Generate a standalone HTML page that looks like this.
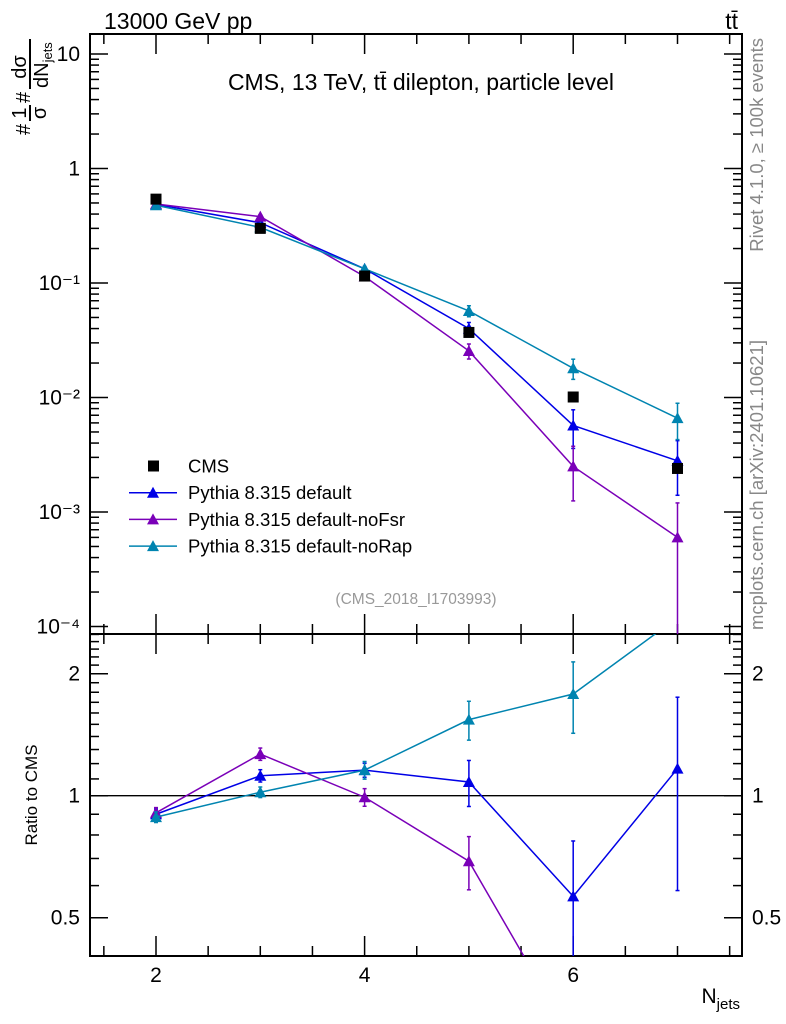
<!DOCTYPE html>
<html><head><meta charset="utf-8"><style>
html,body{margin:0;padding:0;background:#fff;width:786px;height:1024px;overflow:hidden;position:relative;}
svg{display:block;font-family:"Liberation Sans",sans-serif;}
</style></head><body>
<svg id="c" width="786" height="1024" viewBox="0 0 786 1024" style="position:absolute;left:0;top:0"></svg>
<script>
const categories=[2,3,4,5,6,7];
const cmsValues=[0.54,0.30,0.115,0.037,0.0101,0.0024];
const defaultValues=[0.486,0.336,0.133,0.040,0.0057,0.0028];
const noFsrValues=[0.49,0.38,0.114,0.0255,0.0025,0.0006];
const noRapValues=[0.478,0.306,0.133,0.057,0.018,0.0066];
const defaultRelErr=[0.03,0.035,0.04,0.13,0.37,0.5];
const noFsrRelErr=[0.03,0.035,0.05,0.15,0.5,1.0];
const noRapRelErr=[0.03,0.03,0.05,0.11,0.2,0.35];
const mainTicks=["10","1","10\u207B\u00B9","10\u207B\u00B2","10\u207B\u00B3","10\u207B\u2074"];
const mainTickVals=[10,1,0.1,0.01,0.001,0.0001];
const ratioTickVals=[0.5,1,2];
const ratioTickLabels=["0.5","1","2"];
const xTickVals=[2,4,6];

const NS="http://www.w3.org/2000/svg";
const svg=document.getElementById('c');
const L=90,R=742,MT=34,MB=634,RB=956;
function X(v){return 156+(v-2)*104.3;}
function YM(v){return 168.5-114.5*Math.log10(v);}
function YR(v){return 795.7-122*Math.log2(v);}
function el(tag,attrs,parent){const e=document.createElementNS(NS,tag);for(const k in attrs)e.setAttribute(k,attrs[k]);(parent||svg).appendChild(e);return e;}
function txt(s,attrs,parent){const e=el('text',attrs,parent);e.textContent=s;return e;}

const defs=el('defs',{});
const cp1=el('clipPath',{id:'cm'},defs);el('rect',{x:L,y:MT,width:R-L,height:MB-MT},cp1);
const cp2=el('clipPath',{id:'cr'},defs);el('rect',{x:L,y:MB,width:R-L,height:RB-MB},cp2);

const f1=el('rect',{x:L,y:MT,width:R-L,height:MB-MT,fill:'none',stroke:'#000','stroke-width':2});

const f2=el('rect',{x:L,y:MB,width:R-L,height:RB-MB,fill:'none',stroke:'#000','stroke-width':2});


const xt=el('g',{stroke:'#000','stroke-width':1.5});

for(let v=1.5;v<=7.5;v+=0.5){
  const x=X(v);if(x<L||x>R)continue;
  const maj=Math.abs(v-Math.round(v))<1e-6&&Math.round(v)%2===0;
  const len=maj?20:10;
  el('line',{x1:x,y1:MT,x2:x,y2:MT+len},xt);
  el('line',{x1:x,y1:MB,x2:x,y2:MB-len},xt);
  el('line',{x1:x,y1:MB,x2:x,y2:MB+len},xt);
  el('line',{x1:x,y1:RB,x2:x,y2:RB-len},xt);
}
xTickVals.forEach(v=>{const t=txt(String(v),{x:X(v),y:982,'font-size':21,'text-anchor':'middle'});
});

const yt=el('g',{stroke:'#000','stroke-width':1.5});

for(let d=-4;d<=1;d++){for(let m=1;m<10;m++){const v=m*Math.pow(10,d);const y=YM(v);if(y<MT||y>MB)continue;
const len=m===1?18:9;el('line',{x1:L,y1:y,x2:L+len,y2:y},yt);el('line',{x1:R,y1:y,x2:R-len,y2:y},yt);}}
mainTickVals.forEach((v,i)=>{const t=txt(mainTicks[i],{x:80,y:YM(v)+7,'font-size':21,'text-anchor':'end'});
});

const rt=el('g',{stroke:'#000','stroke-width':1.5});

for(let v=0.4;v<=2.51;v+=0.1){const y=YR(v);if(y<MB||y>RB)continue;
const maj=[0.5,1,2].some(q=>Math.abs(q-v)<1e-6);const len=maj?18:9;
el('line',{x1:L,y1:y,x2:L+len,y2:y},rt);el('line',{x1:R,y1:y,x2:R-len,y2:y},rt);}
ratioTickVals.forEach((v,i)=>{
const t=txt(ratioTickLabels[i],{x:80,y:YR(v)+7,'font-size':21,'text-anchor':'end'});

const t2=txt(ratioTickLabels[i],{x:752,y:YR(v)+7,'font-size':21});
});
const one=el('line',{x1:L,y1:YR(1),x2:R,y2:YR(1),stroke:'#000','stroke-width':1.3});


function tri(g,x,y,c){el('path',{d:`M${x-6},${y+5} L${x+6},${y+5} L${x},${y-6} Z`,fill:c},g);}
function drawSeries(name,vals,errs,color){
  const gm=el('g',{'clip-path':'url(#cm)'});
  
  el('polyline',{points:categories.map((c,i)=>X(c)+','+YM(vals[i])).join(' '),fill:'none',stroke:color,'stroke-width':1.5},gm);
  categories.forEach((c,i)=>{const x=X(c),lo=Math.max(vals[i]*(1-errs[i]),1e-6),hi=vals[i]*(1+errs[i]);
    el('line',{x1:x,y1:YM(lo),x2:x,y2:YM(hi),stroke:color,'stroke-width':1.5},gm);
    el('line',{x1:x-2,y1:YM(lo),x2:x+2,y2:YM(lo),stroke:color,'stroke-width':1.5},gm);
    el('line',{x1:x-2,y1:YM(hi),x2:x+2,y2:YM(hi),stroke:color,'stroke-width':1.5},gm);
    tri(gm,x,YM(vals[i]),color);});
  const gr=el('g',{'clip-path':'url(#cr)'});
  
  const r=vals.map((v,i)=>v/cmsValues[i]);
  el('polyline',{points:categories.map((c,i)=>X(c)+','+YR(r[i])).join(' '),fill:'none',stroke:color,'stroke-width':1.5},gr);
  categories.forEach((c,i)=>{if(r[i]<0.4||r[i]>2.5)return;
    const x=X(c),lo=Math.max(r[i]*(1-errs[i]),1e-3),hi=r[i]*(1+errs[i]);
    el('line',{x1:x,y1:YR(lo),x2:x,y2:YR(hi),stroke:color,'stroke-width':1.5},gr);
    el('line',{x1:x-2,y1:YR(lo),x2:x+2,y2:YR(lo),stroke:color,'stroke-width':1.5},gr);
    el('line',{x1:x-2,y1:YR(hi),x2:x+2,y2:YR(hi),stroke:color,'stroke-width':1.5},gr);
    tri(gr,x,YR(r[i]),color);});
}
drawSeries('pythia-default',defaultValues,defaultRelErr,'#0000e6');
drawSeries('pythia-nofsr',noFsrValues,noFsrRelErr,'#7a00b8');
drawSeries('pythia-norap',noRapValues,noRapRelErr,'#0084b0');
const gc=el('g',{});

categories.forEach((c,i)=>{el('rect',{x:X(c)-5.5,y:YM(cmsValues[i])-5.5,width:11,height:11,fill:'#000'},gc);});

const lg=el('g',{});

const legItems=[["CMS",null],["Pythia 8.315 default","#0000e6"],["Pythia 8.315 default-noFsr","#7a00b8"],["Pythia 8.315 default-noRap","#0084b0"]];
legItems.forEach((it,i)=>{const y=466+i*26.7;
  const g=el('g',{},lg);
  if(it[1]){el('line',{x1:129,y1:y,x2:177,y2:y,stroke:it[1],'stroke-width':1.5},g);tri(g,153,y,it[1]);}
  else el('rect',{x:148,y:y-5.5,width:11,height:11,fill:'#000'},g);
  txt(it[0],{x:188,y:y+6.5,'font-size':18.5},g);});
</script>
<svg width="786" height="1024" style="position:absolute;left:0;top:0;font-family:'Liberation Sans',sans-serif">
<text x="104" y="29" font-size="23">13000 GeV pp</text>
<text x="738" y="29" font-size="23" text-anchor="end">tt̄</text>
<text x="421" y="90" font-size="23" text-anchor="middle">CMS, 13 TeV, tt̄ dilepton, particle level</text>
<text x="416" y="604" font-size="15.5" fill="#999" text-anchor="middle">(CMS_2018_I1703993)</text>
<g transform="translate(0,135) rotate(-90)">
<text x="0" y="30" font-size="20">#</text>
<text x="22" y="26" font-size="20" text-anchor="middle">1</text>
<line x1="14" y1="30" x2="30" y2="30" stroke="#000" stroke-width="2"/>
<text x="22" y="46" font-size="20" text-anchor="middle">σ</text>
<text x="32" y="30" font-size="20">#</text>
<text x="68" y="26" font-size="20" text-anchor="middle">dσ</text>
<line x1="46" y1="30" x2="96" y2="30" stroke="#000" stroke-width="2"/>
<text x="47" y="48" font-size="20">dN<tspan font-size="13" dy="4">jets</tspan></text>
</g>
<text transform="translate(37,795) rotate(-90)" font-size="17" text-anchor="middle">Ratio to CMS</text>
<text x="740" y="1003" font-size="21" text-anchor="end">N<tspan font-size="15" dy="6">jets</tspan></text>
<text transform="translate(763,38) rotate(-90)" font-size="18.5" fill="#888" text-anchor="end">Rivet 4.1.0, ≥ 100k events</text>
<text transform="translate(763,630) rotate(-90)" font-size="18.5" fill="#888">mcplots.cern.ch [arXiv:2401.10621]</text>
</svg>
</body></html>
